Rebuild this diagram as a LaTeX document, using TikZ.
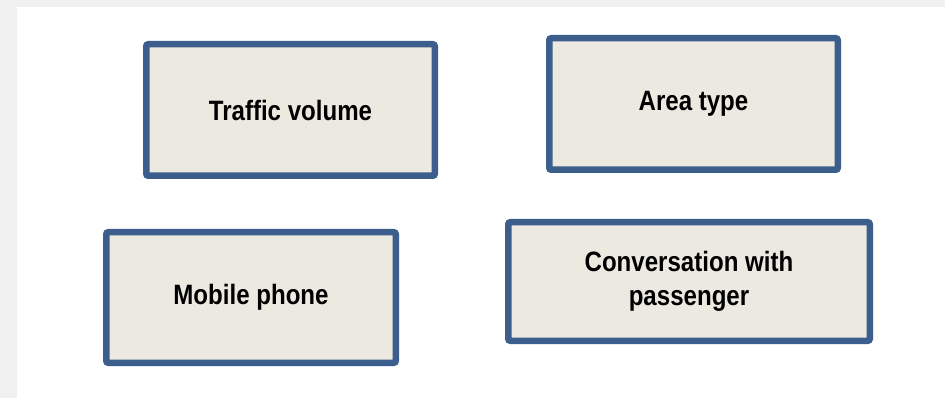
\documentclass[tikz,border=0pt]{standalone}
\usepackage{fontspec}
\setmainfont{Liberation Sans}[FakeStretch=0.86]
\definecolor{bordercol}{HTML}{3B5E8C}
\definecolor{fillcol}{HTML}{ECEAE0}
\definecolor{bggray}{HTML}{F0F0F0}
\begin{document}
\begin{tikzpicture}[x=1pt,y=-1pt,
  factor/.style={draw=bordercol, fill=fillcol, line width=6.5pt, rounded corners=2pt,
    inner sep=0pt, align=center, font=\fontsize{28}{34}\selectfont\bfseries}]
\fill[bggray] (0,0) rectangle (945,398);
\useasboundingbox (0,0) rectangle (945,398);
\fill[white] (17,7) rectangle (945,398);
\node[factor, minimum width=288.5pt, minimum height=131.5pt] (tv) at (290.5,110) {Traffic volume};
\node[factor, minimum width=288.5pt, minimum height=131.5pt] (at) at (693.5,104) {Area type};
\node[factor, minimum width=289.5pt, minimum height=130.5pt] (mp) at (251,297.5) {Mobile phone};
\node[factor, minimum width=361.5pt, minimum height=118.5pt] (cp) at (689,281.5) {Conversation with\\passenger};
\end{tikzpicture}
\end{document}
